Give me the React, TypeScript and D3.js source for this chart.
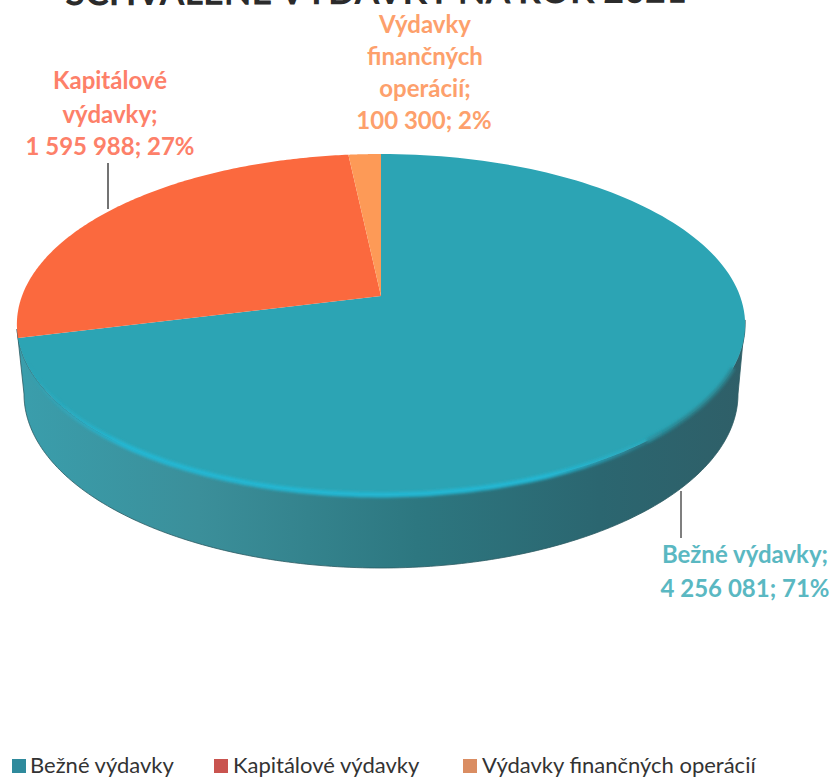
import React from "react";
import * as d3 from "d3";

const categories = ["Bežné výdavky", "Kapitálové výdavky", "Výdavky finančných operácií"];
const values = [4256081, 1595988, 100300];
const valueLabels = ["4 256 081; 71%", "1 595 988; 27%", "100 300; 2%"];
const titleText = "SCHVÁLENÉ VÝDAVKY NA ROK 2021";

const W = 836, H = 778;
const cx = 381, apexY = 296;
const k = 0.167, a = 165.7, b = 359;
const font = "Lato, 'Open Sans', sans-serif";
const colors = ["#2ca4b4", "#fb693e", "#fd9a57"];
const labelColors = ["#5ab8c2", "#fd8069", "#fda06c"];
const swatch = ["#2f8a9c", "#c9544f", "#da8d62"];

// Perspective projection of the circular pie onto the page.
function project(t: number): [number, number] {
  const theta = t - 0.027 * Math.sin(t) ** 2; // small skew of the tilted disc
  const u = Math.sin(theta), v = -Math.cos(theta);
  const w = 1 - k * v;
  return [cx + (b * u) / w, apexY + (a * v) / w];
}

function samples(a0: number, a1: number, n = 120): [number, number][] {
  return d3.range(n + 1).map((i) => project(a0 + ((a1 - a0) * i) / n));
}

const line = d3.line<[number, number]>().x((d) => d[0]).y((d) => d[1]);

const pie = d3.pie<number>().sort(null)(values);

const rightT = Math.PI / 2 + Math.asin(k);
const leftT = 2 * Math.PI - rightT;

const lowCy = apexY + 98, lowRx = 357, lowRy = 174;
const lowerEdge: [number, number][] = d3.range(0, 181).map((i) => {
  const t = (i * Math.PI) / 180;
  return [cx + lowRx * Math.cos(t), lowCy + lowRy * Math.sin(t)];
});
const sidePts: [number, number][] = [...samples(rightT, leftT, 160), ...lowerEdge.slice().reverse()];
const sidePath = line(sidePts) + "Z";
const rimPath = line(samples(Math.PI * 0.74, Math.PI * 1.38, 100)) || "";
const edgePath = line(samples(Math.PI * 0.64, Math.PI * 0.78, 60)) || "";

export default function App() {
  const swatchX = [12, 214, 463];
  const textX = [30, 233, 482];
  return (
    <svg width={W} height={H} viewBox={`0 0 ${W} ${H}`} style={{ position: "absolute", left: 0, top: 0, background: "#fff" }}>
      <defs>
        <linearGradient id="side" x1="0" x2="1" y1="0" y2="0">
          <stop offset="0" stopColor="#3a9eac" />
          <stop offset="0.25" stopColor="#3b8f9a" />
          <stop offset="0.55" stopColor="#2d7780" />
          <stop offset="0.8" stopColor="#2b6670" />
          <stop offset="1" stopColor="#2f5f68" />
        </linearGradient>
        <linearGradient id="rim" x1="0" x2="1" y1="0" y2="0">
          <stop offset="0" stopColor="#22b8d4" stopOpacity="0" />
          <stop offset="0.15" stopColor="#22b8d4" />
          <stop offset="0.8" stopColor="#22b8d4" />
          <stop offset="1" stopColor="#22b8d4" stopOpacity="0" />
        </linearGradient>
        <filter id="soft" x="-5%" y="-20%" width="110%" height="140%">
          <feGaussianBlur stdDeviation="1.7" />
        </filter>
      </defs>

      <text x={376} y={4} textAnchor="middle" fontFamily={font} fontWeight={700} fontSize={36} fill="#2b2b2b" transform="rotate(-0.25 376 4)">{titleText}</text>

      <path d={sidePath} fill="url(#side)" stroke="#2b5a62" strokeWidth={0.8} />

      {pie.map((s, i) => {
        const pts = samples(s.startAngle, s.endAngle, 160);
        const d = line([[cx, apexY], ...pts]) + "Z";
        return <path key={categories[i]} d={d} fill={colors[i]} />;
      })}
      <path d={edgePath} fill="none" stroke="#2a8490" strokeWidth={4} filter="url(#soft)" />
      <path d={rimPath} fill="none" stroke="url(#rim)" strokeWidth={5} filter="url(#soft)" />

      <line x1={108} x2={108} y1={163} y2={209} stroke="#444" strokeWidth={1.5} />
      <line x1={681} x2={681} y1={491} y2={538} stroke="#555" strokeWidth={1.5} />

      <g fontFamily={font} fontWeight={700} fontSize={24} textAnchor="middle">
        <g fill={labelColors[2]}>
          <text x={425} y={33}>Výdavky</text>
          <text x={425} y={65}>finančných</text>
          <text x={425} y={97}>operácií;</text>
          <text x={424} y={129}>{valueLabels[2]}</text>
        </g>
        <g fill={labelColors[1]}>
          <text x={110} y={89}>Kapitálové</text>
          <text x={110} y={123}>výdavky;</text>
          <text x={110} y={155}>{valueLabels[1]}</text>
        </g>
        <g fill={labelColors[0]}>
          <text x={745} y={563}>Bežné výdavky;</text>
          <text x={745} y={597}>{valueLabels[0]}</text>
        </g>
      </g>

      <g fontFamily={font} fontSize={22} fill="#333">
        {categories.map((c, i) => (
          <g key={c}>
            <rect x={swatchX[i]} y={759} width={14} height={14} fill={swatch[i]} />
            <text x={textX[i]} y={773}>{c}</text>
          </g>
        ))}
      </g>
    </svg>
  );
}
